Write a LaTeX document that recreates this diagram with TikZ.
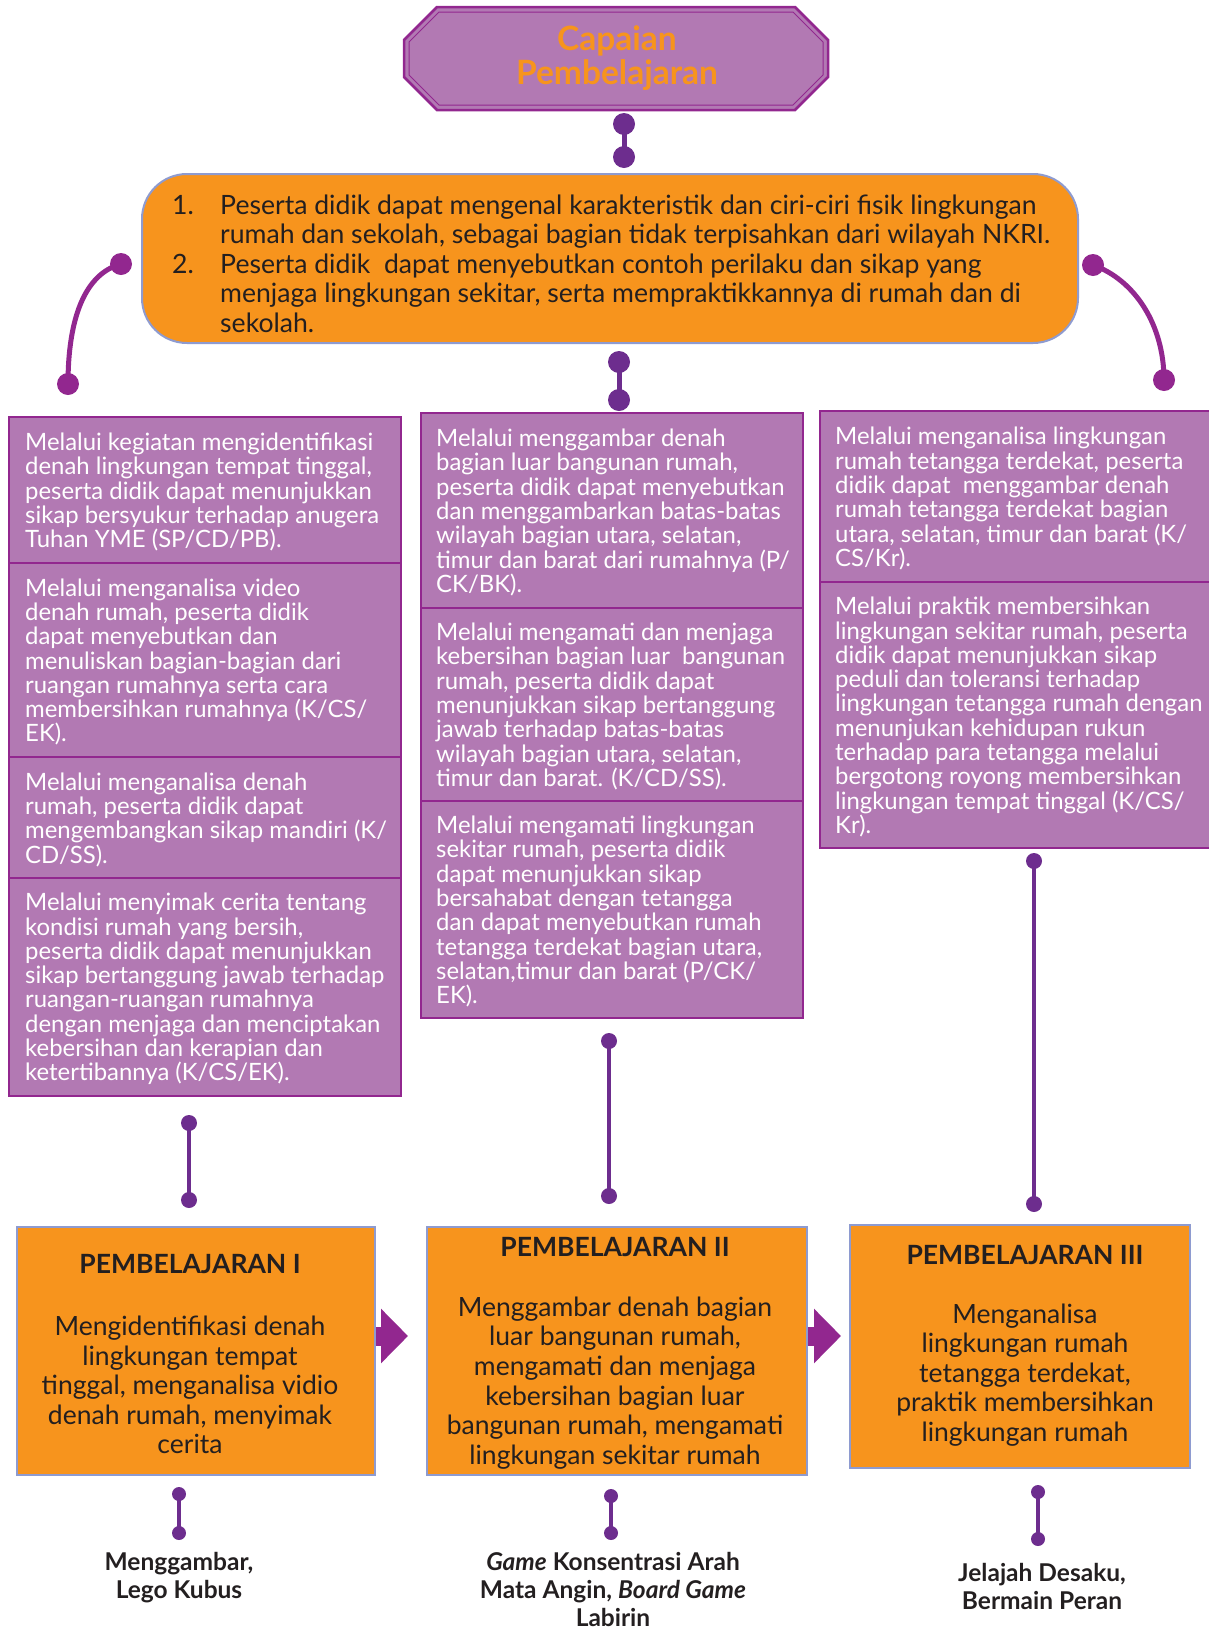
\documentclass[tikz,border=0pt]{standalone}
\usepackage{fontspec}
\setmainfont{Lato}
\usetikzlibrary{positioning, calc, arrows.meta}

\definecolor{cporange}{HTML}{F7941D}
\definecolor{cpfill}{HTML}{B279B3}
\definecolor{cpborder}{HTML}{92278F}
\definecolor{cpdot}{HTML}{6D2D8E}
\definecolor{cpline}{HTML}{8E9BD0}
\definecolor{cptext}{HTML}{231F20}

\begin{document}
\begin{tikzpicture}[x=1pt, y=-1pt,
    pbox/.style={draw=cpborder, line width=2.5, fill=cpfill, anchor=north west, outer sep=0, inner sep=0},
    ptext/.style={text=white, align=left, inner sep=0, font=\fontsize{23.9}{24.3}\selectfont},
    obox/.style={draw=cpline, line width=2, fill=cporange, anchor=north west, outer sep=0, inner sep=0},
    otitle/.style={text=cptext, inner sep=0, font=\bfseries\fontsize{26.5}{28}\selectfont},
    obody/.style={text=cptext, align=center, inner sep=0, font=\fontsize{26.5}{29.6}\selectfont},
    media/.style={text=cptext, align=center, inner sep=0, font=\bfseries\fontsize{24.5}{28}\selectfont},
    link/.style={draw=cpdot, line width=5},
    curl/.style={draw=cpborder, line width=5},
    flow/.style={draw=cpborder, line width=19, -{Triangle[length=27pt, width=53pt]}}
]
\useasboundingbox (0,0) rectangle (1208,1628);

% judul
\filldraw[fill=cpfill, draw=cpborder, line width=2.5]
    (437,7) -- (795,7) -- (828,40) -- (828,77) -- (795,110) -- (437,110) -- (404,77) -- (404,40) -- cycle;
\draw[cpborder, line width=1] (439,12) -- (793,12) -- (823,42) -- (823,75) -- (793,105) -- (439,105) -- (409,75) -- (409,42) -- cycle;
\node[text=cporange, align=center, font=\bfseries\fontsize{33.5}{34}\selectfont] (cp) at (617,58) {Capaian\\Pembelajaran};

% capaian
\node[draw=cpline, line width=2, fill=cporange, rounded corners=45, minimum width=936, minimum height=169, outer sep=0] (goal) at (610,258.5) {};
\node[text=cptext, align=left, inner sep=0, font=\fontsize{26.6}{29.5}\selectfont, right=30pt of goal.west, yshift=-5pt] (goalt)
    {\makebox[48pt][l]{1.}Peserta didik dapat mengenal karakteristik dan ciri-ciri fisik lingkungan\\
     \hspace*{48pt}rumah dan sekolah, sebagai bagian tidak terpisahkan dari wilayah NKRI.\\
     \makebox[48pt][l]{2.}Peserta didik\ \ dapat menyebutkan contoh perilaku dan sikap yang\\
     \hspace*{48pt}menjaga lingkungan sekitar, serta mempraktikkannya di rumah dan di\\
     \hspace*{48pt}sekolah.};

% kolom kiri
\node[pbox, minimum width=392, minimum height=146] (l1) at (9,417) {};
\node[pbox, minimum width=392, minimum height=194] (l2) at (9,563) {};
\node[pbox, minimum width=392, minimum height=121] (l3) at (9,757) {};
\node[pbox, minimum width=392, minimum height=218] (l4) at (9,878) {};
\node[ptext, right=16pt of l1.west, yshift=-2pt] (l1t) {Melalui kegiatan mengidentifikasi\\denah lingkungan tempat tinggal,\\peserta didik dapat menunjukkan\\sikap bersyukur terhadap anugera\\Tuhan YME (SP/CD/PB).};
\node[ptext, right=16pt of l2.west, yshift=-2pt] (l2t) {Melalui menganalisa video\\denah rumah, peserta didik\\dapat menyebutkan dan\\menuliskan bagian-bagian dari\\ruangan rumahnya serta cara\\membersihkan rumahnya (K/CS/\\EK).};
\node[ptext, right=16pt of l3.west, yshift=-2pt] (l3t) {Melalui menganalisa denah\\rumah, peserta didik dapat\\mengembangkan sikap mandiri (K/\\CD/SS).};
\node[ptext, right=16pt of l4.west, yshift=-2pt] (l4t) {Melalui menyimak cerita tentang\\kondisi rumah yang bersih,\\peserta didik dapat menunjukkan\\sikap bertanggung jawab terhadap\\ruangan-ruangan rumahnya\\dengan menjaga dan menciptakan\\kebersihan dan kerapian dan\\ketertibannya (K/CS/EK).};

% kolom tengah
\node[pbox, minimum width=382, minimum height=195] (m1) at (421,413) {};
\node[pbox, minimum width=382, minimum height=193] (m2) at (421,608) {};
\node[pbox, minimum width=382, minimum height=217] (m3) at (421,801) {};
\node[ptext, right=15pt of m1.west, yshift=-2pt] (m1t) {Melalui menggambar denah\\bagian luar bangunan rumah,\\peserta didik dapat menyebutkan\\dan menggambarkan batas-batas\\wilayah bagian utara, selatan,\\timur dan barat dari rumahnya (P/\\CK/BK).};
\node[ptext, right=15pt of m2.west, yshift=-2pt] (m2t) {Melalui mengamati dan menjaga\\kebersihan bagian luar\ \ bangunan\\rumah, peserta didik dapat\\menunjukkan sikap bertanggung\\jawab terhadap batas-batas\\wilayah bagian utara, selatan,\\timur dan barat. (K/CD/SS).};
\node[ptext, right=15pt of m3.west, yshift=-2pt] (m3t) {Melalui mengamati lingkungan\\sekitar rumah, peserta didik\\dapat menunjukkan sikap\\bersahabat dengan tetangga\\dan dapat menyebutkan rumah\\tetangga terdekat bagian utara,\\selatan,timur dan barat (P/CK/\\EK).};

% kolom kanan
\node[pbox, minimum width=390, minimum height=171] (r1) at (820,411) {};
\node[pbox, minimum width=390, minimum height=266] (r2) at (820,582) {};
\node[ptext, right=15pt of r1.west, yshift=-2pt] (r1t) {Melalui menganalisa lingkungan\\rumah tetangga terdekat, peserta\\didik dapat\ \ menggambar denah\\rumah tetangga terdekat bagian\\utara, selatan, timur dan barat (K/\\CS/Kr).};
\node[ptext, right=15pt of r2.west, yshift=-2pt] (r2t) {Melalui praktik membersihkan\\lingkungan sekitar rumah, peserta\\didik dapat menunjukkan sikap\\peduli dan toleransi terhadap\\lingkungan tetangga rumah dengan\\menunjukan kehidupan rukun\\terhadap para tetangga melalui\\bergotong royong membersihkan\\lingkungan tempat tinggal (K/CS/\\Kr).};

% pembelajaran
\node[obox, minimum width=358, minimum height=248] (pb1) at (17,1227) {};
\node[obox, minimum width=380, minimum height=248] (pb2) at (427,1227) {};
\node[obox, minimum width=340, minimum height=243] (pb3) at (850,1225) {};
\node[otitle, below=27pt of pb1.north, xshift=-6pt] (pb1t) {PEMBELAJARAN I};
\node[otitle, below=10pt of pb2.north, xshift=-2pt] (pb2t) {PEMBELAJARAN II};
\node[otitle, below=20pt of pb3.north, xshift=5pt] (pb3t) {PEMBELAJARAN III};
\node[obody] (pb1b) at ($(pb1.north)+(-6,158)$) {Mengidentifikasi denah\\lingkungan tempat\\tinggal, menganalisa vidio\\denah rumah, menyimak\\cerita};
\node[obody] (pb2b) at ($(pb2.north)+(-2,156)$) {Menggambar denah bagian\\luar bangunan rumah,\\mengamati dan menjaga\\kebersihan bagian luar\\bangunan rumah, mengamati\\lingkungan sekitar rumah};
\node[obody] (pb3b) at ($(pb3.north)+(5,150)$) {Menganalisa\\lingkungan rumah\\tetangga terdekat,\\praktik membersihkan\\lingkungan rumah};
\draw[flow] ($(pb1.east)+(1,-15)$) -- ++(32,0);
\draw[flow] ($(pb2.east)+(1,-15)$) -- ++(33,0);

% media
\node[media] (md1) at (179,1578) {Menggambar,\\Lego Kubus};
\node[media] (md2) at (613,1589) {\textit{Game} Konsentrasi Arah\\Mata Angin, \textit{Board Game}\\Labirin};
\node[media] (md3) at (1042,1586) {Jelajah Desaku,\\Bermain Peran};

% penghubung
\coordinate (ta) at (624,124);  \coordinate (tb) at (624,157);
\coordinate (ma) at (619,362);  \coordinate (mb) at (619,400);
\coordinate (la) at (121,264);  \coordinate (lb) at (68,384);
\coordinate (ra) at (1093,265); \coordinate (rb) at (1164,380);
\coordinate (ka) at (189,1123); \coordinate (kb) at (189,1200);
\coordinate (na) at (609,1041); \coordinate (nb) at (609,1196);
\coordinate (sa) at (1034,861); \coordinate (sb) at (1034,1204);
\coordinate (ua) at (179,1494); \coordinate (ub) at (179,1533);
\coordinate (va) at (611,1496); \coordinate (vb) at (611,1533);
\coordinate (wa) at (1038,1492); \coordinate (wb) at (1038,1539);

\foreach \a/\b in {ta/tb, ma/mb} {
    \draw[link] (\a) -- (\b);
    \fill[cpdot] (\a) circle[radius=11] (\b) circle[radius=11];
}
\draw[curl] (la) .. controls (84,274) and (68,320) .. (lb);
\draw[curl] (ra) .. controls (1135,280) and (1164,325) .. (rb);
\fill[cpborder] (la) circle[radius=11] (lb) circle[radius=11] (ra) circle[radius=11] (rb) circle[radius=11];
\foreach \a/\b in {ka/kb, na/nb, sa/sb} {
    \draw[link, line width=4] (\a) -- (\b);
    \fill[cpdot] (\a) circle[radius=8] (\b) circle[radius=8];
}
\foreach \a/\b in {ua/ub, va/vb, wa/wb} {
    \draw[link, line width=4] (\a) -- (\b);
    \fill[cpdot] (\a) circle[radius=7] (\b) circle[radius=7];
}
\end{tikzpicture}
\end{document}
